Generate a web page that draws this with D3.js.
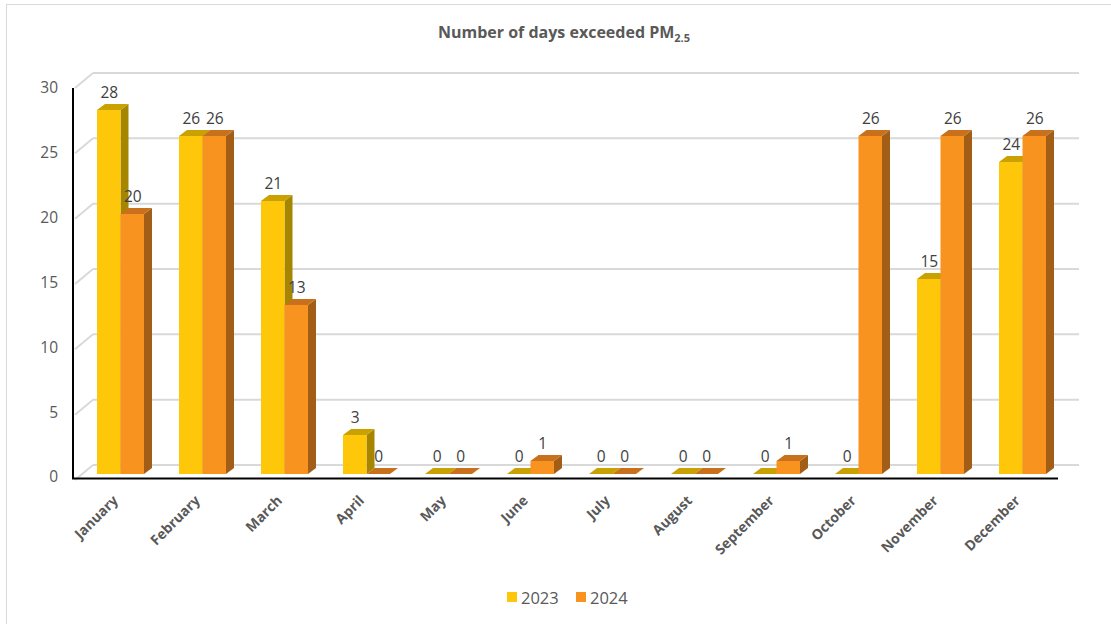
<!DOCTYPE html>
<html>
<head>
<meta charset="utf-8">
<script src="https://cdn.jsdelivr.net/npm/d3@7"></script>
<style>
  html, body { margin: 0; padding: 0; background: #fff; }
  svg { display: block; font-family: "Open Sans", "Liberation Sans", sans-serif; }
</style>
</head>
<body>
<svg id="chart" width="1111" height="624"></svg>
<script>
const months = ["January","February","March","April","May","June","July","August","September","October","November","December"];
const series = ["2023","2024"];
const values2023 = [28,26,21,3,0,0,0,0,0,0,15,24];
const values2024 = [20,26,13,0,0,1,0,0,1,26,26,26];
const yTicks = [0,5,10,15,20,25,30];

const colors = {
  "2023": {front:"#FFC709", side:"#A68600", top:"#C9A100"},
  "2024": {front:"#F7931E", side:"#A25E17", top:"#C8701B"}
};

const FONT = "'Open Sans', 'Liberation Sans', sans-serif";
const svg = d3.select("#chart");

// outer border
svg.append("rect").attr("x",6.5).attr("y",4.5).attr("width",1115).attr("height",630)
  .attr("fill","none").attr("stroke","#D9D9D9").attr("stroke-width",1);

// Title
const title = svg.append("text").attr("x",564).attr("y",38).attr("text-anchor","middle")
  .attr("fill","#595959").attr("font-weight","bold").attr("font-size",16);
title.append("tspan").text("Number of days exceeded PM");
title.append("tspan").attr("font-size",11).attr("dy",4).text("2.5");

// Scales
const x0 = d3.scaleBand().domain(months).range([79.5,1063.5]).paddingInner(35/82).paddingOuter(17.5/82);
const x1 = d3.scaleBand().domain(series).range([0, x0.bandwidth()]);
const yFront = d3.scaleLinear().domain([0,30]).range([474,84]);
const yBack = d3.scaleLinear().domain([0,30]).range([465,73]);
const yLab = d3.scaleLinear().domain([0,30]).range([477,88]);
const depthX = 8, depthY = -6;
const wallDX = 20, wallDY = -15;

// Back gridlines + left wall diagonals
const axisX = 73, backLeft = axisX + wallDX, backRight = 1079;
yTicks.forEach(t => {
  const yb = yBack(t);
  svg.append("line").attr("x1",backLeft).attr("x2",backRight).attr("y1",yb).attr("y2",yb)
    .attr("stroke","#D9D9D9").attr("stroke-width",2);
  svg.append("line").attr("x1",axisX+2).attr("x2",backLeft).attr("y1",yb - wallDY).attr("y2",yb)
    .attr("stroke","#D9D9D9").attr("stroke-width",2);
});

// Y axis labels
const yAxis = d3.axisLeft(yLab).tickValues(yTicks).tickSize(0).tickPadding(0);
const ya = svg.append("g").attr("transform",`translate(${axisX-15},0)`).call(yAxis);
ya.select(".domain").remove();
ya.selectAll("text").attr("fill","#595959").attr("font-size",15.5).style("font-family",FONT);

// Bars
const data = months.map((m,i) => ({month:m, vals:[{s:"2023",v:values2023[i]},{s:"2024",v:values2024[i]}]}));
data.forEach(d => {
  d.vals.forEach(e => {
    const c = colors[e.s];
    const xl = x0(d.month) + x1(e.s);
    const w = x1.bandwidth();
    const yt = yFront(e.v), yb = yFront(0);
    const g = svg.append("g");
    g.append("polygon").attr("points", [[xl+w,yt],[xl+w+depthX,yt+depthY],[xl+w+depthX,yb+depthY],[xl+w,yb]].join(" "))
      .attr("fill", c.side);
    g.append("polygon").attr("points", [[xl,yt],[xl+depthX,yt+depthY],[xl+w+depthX,yt+depthY],[xl+w,yt]].join(" "))
      .attr("fill", c.top);
    if (e.v > 0) {
      g.append("rect").attr("x",xl).attr("y",yt).attr("width",w).attr("height",yb-yt).attr("fill",c.front);
    }
  });
});

// Data labels
data.forEach(d => {
  d.vals.forEach(e => {
    const xc = x0(d.month) + x1(e.s) + x1.bandwidth()/2 + 0.5;
    svg.append("text").attr("x",xc).attr("y",yFront(e.v) - 12).attr("text-anchor","middle")
      .attr("fill","#404040").attr("font-size",15.5).text(e.v);
  });
});

// Axis lines
svg.append("line").attr("x1",axisX).attr("x2",axisX).attr("y1",88).attr("y2",479)
  .attr("stroke","#000").attr("stroke-width",2);
svg.append("line").attr("x1",axisX-1).attr("x2",1058).attr("y1",478.5).attr("y2",478.5)
  .attr("stroke","#000").attr("stroke-width",2);

// X labels
const xAxis = d3.axisBottom(x0).tickSize(0).tickPadding(0);
const xa = svg.append("g").call(xAxis);
xa.select(".domain").remove();
xa.selectAll(".tick").attr("transform", d => `translate(${x0(d)+x0.bandwidth()/2-5},498)`);
xa.selectAll("text").attr("y",0).attr("dy","0.35em").attr("x",0)
  .attr("text-anchor","end").attr("transform","rotate(-45)")
  .attr("fill","#595959").attr("font-size",14).attr("font-weight","bold")
  .style("font-family",FONT);

// Legend
const legend = svg.append("g");
[["2023",507],["2024",576]].forEach(([s,x]) => {
  legend.append("rect").attr("x",x).attr("y",592).attr("width",10).attr("height",10).attr("fill",colors[s].front);
  legend.append("text").attr("x",x+14).attr("y",603.5).attr("fill","#595959").attr("font-size",16.5).text(s);
});
</script>
</body>
</html>
